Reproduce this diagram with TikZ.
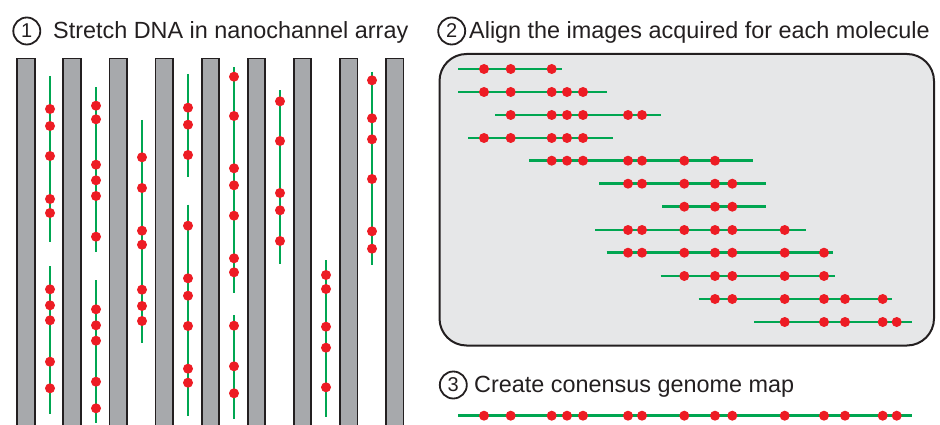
\documentclass[tikz,border=0pt]{standalone}
\usepackage{fontspec}
\setmainfont{Liberation Sans}
\definecolor{barfill}{HTML}{A7A9AC}
\definecolor{ink}{HTML}{231F20}
\definecolor{dnagreen}{HTML}{00A651}
\definecolor{sitered}{HTML}{ED1C24}
\definecolor{boxfill}{HTML}{E6E7E8}
\tikzset{
  channel/.style={fill=barfill,draw=ink,line width=1.8pt},
  dna/.style={draw=dnagreen,line width=2.7pt},
  site/.style={fill=sitered},
  panelbox/.style={fill=boxfill,draw=ink,line width=2pt,rounded corners=27pt},
  title/.style={anchor=base west,inner sep=0pt,text=ink,font=\fontsize{23.4}{28}\selectfont},
  numcircle/.style={circle,draw=ink,line width=1.8pt,minimum size=27pt,inner sep=0pt,text=ink,font=\fontsize{20}{24}\selectfont}
}
\newcommand\vstrand[4]{%
  \draw[dna] (#1,#2) -- (#1,#3);
  \foreach \d in {#4} \fill[site] (#1,\d) circle (5pt);
}
\newcommand\hstrand[4]{%
  \draw[dna] (#2,#1) -- (#3,#1);
  \foreach \d in {#4} \fill[site] (\d,#1) circle (5pt);
}
\begin{document}
\begin{tikzpicture}[x=1pt,y=-1pt]
\useasboundingbox (0,0) rectangle (940,425);
% titles
\node[numcircle] (c1) at (26.8,31) {1};
\node[title] (t1) at (53,38.3) {Stretch DNA in nanochannel array};
\node[numcircle] (c2) at (451.7,31) {2};
\node[title] (t2) at (469,38.3) {Align the images acquired for each molecule};
\node[numcircle] (c3) at (453.3,385) {3};
\node[title] (t3) at (474,392.3) {Create conensus genome map};
% channels
\foreach \i in {0,...,8}
  \draw[channel] ({17.2+46.1*\i},58.5) rectangle ({34.7+46.1*\i},432);
% molecules in channels
\vstrand{50}{76}{242}{109,126,156,199,213}
\vstrand{50}{266}{414}{289.3,305.3,320.3,361.7,388.3}
\vstrand{96}{87.3}{252.3}{105.7,119.3,164.7,180.3,196,236.7}
\vstrand{96}{280}{423.3}{309.3,325.3,340.7,381.7,408.3}
\vstrand{142}{120}{343.3}{157.3,188,230.7,244.7,289.7,306,321}
\vstrand{188}{74}{176.7}{107.7,124.7,155}
\vstrand{188}{204.7}{415.7}{225.7,278.3,295.7,326,368.7,382.7}
\vstrand{234}{67.3}{293.3}{76.7,116,168.3,185.3,215.7,258.3,272.3}
\vstrand{234}{315}{419.3}{325.7,366.3,393.3}
\vstrand{280}{90.3}{264.3}{101.3,141,193,210.3,241}
\vstrand{326}{260}{417.3}{275,289,326.7,347.7,387.3}
\vstrand{372}{71.7}{265}{80.3,118.3,139.3,179,231.3,248.7}
% alignment box
\draw[panelbox] (439.5,54) rectangle (934,345.5);
\hstrand{69}{458.3}{561.7}{484,510.7,551.7}
\hstrand{92}{458.3}{606.7}{484,510.7,551.7,567,583}
\hstrand{115}{495.3}{660.7}{510.7,551.7,567,583,628,642}
\hstrand{138}{468.3}{612.7}{484,510.7,551.7,567,583}
\hstrand{160.7}{529.3}{752.7}{551.7,567,583,628,642,684.3,715}
\hstrand{183.7}{599.3}{765.7}{628,642,684.3,715,732.3}
\hstrand{206.7}{662.3}{765.7}{684.3,715,732.3}
\hstrand{230}{595}{806}{628,642,684.3,715,732.3,784.7}
\hstrand{252.7}{606.7}{833.3}{628,642,684.3,715,732.3,784.7,824}
\hstrand{276}{660.7}{834.7}{684.3,715,732.3,784.7,824}
\hstrand{299}{698.7}{892}{715,732.3,784.7,824,845,882.7}
\hstrand{322}{754.3}{911.7}{784.7,824,845,882.7,896.7}
% consensus map
\hstrand{415.7}{458.3}{911.7}{484,510.7,551.7,567,583,628,642,684.3,715,732.3,784.7,824,845,882.7,896.7}
\end{tikzpicture}
\end{document}
